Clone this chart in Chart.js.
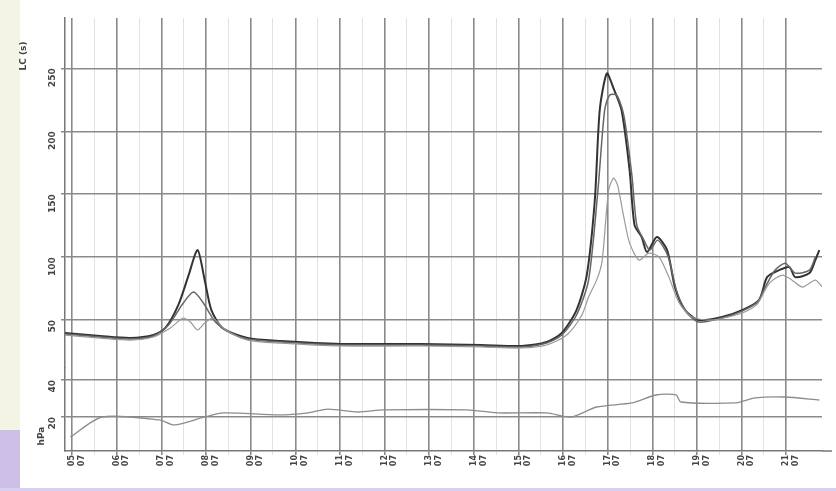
<!DOCTYPE html>
<html>
<head>
<meta charset="utf-8">
<script src="https://cdn.jsdelivr.net/npm/chart.js@4.4.1/dist/chart.umd.min.js"></script>
<style>
html,body{margin:0;padding:0;background:#fff;}
#wrap{position:relative;width:836px;height:491px;overflow:hidden;}
#strip{position:absolute;left:0;top:0;width:20px;height:430px;background:#f4f4e4;}
#corner{position:absolute;left:0;top:430px;width:20px;height:61px;background:#cdbfe6;}
#foot{position:absolute;left:0;top:488px;width:836px;height:3px;background:#d9cff0;}
canvas{position:absolute;left:0;top:0;}
</style>
</head>
<body>
<div id="wrap">
  <div id="strip"></div>
  <div id="corner"></div>
  <div id="foot"></div>
  <canvas id="chart" width="836" height="491"></canvas>
</div>
<script>
// x positions are in tick units (0 = first labelled tick)
const xTickTop    = ["05","06","07","08","09","10","11","12","13","14","15","16","17","18","19","20","21"];
const xTickBottom = ["07","07","07","07","07","07","07","07","07","07","07","07","07","07","07","07","07"];
const yTicksMain  = [50, 100, 150, 200, 250];
const yTicksLow   = [20, 40];

// series A (darkest)
const aX = [-0.16,0.63,1.30,1.82,2.09,2.38,2.61,2.81,2.97,3.12,3.37,3.93,4.67,6.02,7.82,9.17,10.07,10.63,10.97,11.30,11.53,11.71,11.82,11.98,12.13,12.31,12.49,12.60,12.76,12.88,13.10,13.33,13.51,13.73,14.04,14.56,15.01,15.39,15.57,15.84,16.07,16.20,16.52,16.65,16.74];
const aY = [39.7,37.3,35.7,38.1,43.7,62,85.7,105.6,81.7,57.9,43.7,35.7,33.3,31,31,30.2,29.4,32.5,39.7,57.9,85.7,145.2,216.7,246,234.1,216.7,169,125.4,115.9,104,115.9,105.6,75.4,57.9,50,52.4,57.9,65.9,84.1,89.7,92.1,84.1,87.3,97.6,105.6];

// series B (medium)
const bX = [-0.16,0.63,1.30,1.82,2.16,2.49,2.72,2.94,3.21,3.55,3.93,4.67,6.02,7.82,9.17,10.07,10.63,10.97,11.30,11.57,11.78,11.93,12.04,12.20,12.36,12.54,12.65,12.81,12.94,13.12,13.35,13.55,13.78,14.04,14.56,15.01,15.35,15.53,15.75,15.98,16.20,16.52,16.65];
const bY = [38.9,36.5,34.9,37.3,46,63.5,72.2,63.5,48.4,39.7,34.9,32.5,30.2,30.2,29.4,28.6,31.7,38.1,54,81.7,153.2,216.7,228.6,228.6,212.7,165.1,125.4,113.5,105.6,113.5,100.8,72.2,55.6,48.4,51.6,57.1,64.3,76.2,89.7,95.2,87.3,89.7,100];

// series C (light)
const cX = [-0.16,0.63,1.30,1.82,2.20,2.49,2.65,2.81,2.97,3.15,3.44,3.93,4.67,6.02,7.82,9.17,10.07,10.63,11.08,11.42,11.57,11.75,11.87,12.02,12.13,12.22,12.36,12.49,12.70,12.92,13.15,13.37,13.60,13.89,14.34,15.01,15.35,15.62,15.91,16.13,16.36,16.65,16.81];
const cY = [38.1,35.7,34.1,36.5,43.7,51.6,48.4,42.1,47.6,51.6,42.1,34.1,31.7,29.4,29.4,28.6,27.8,30.2,38.1,54,68.3,81.7,96,153.2,162.7,157.1,131.7,111.1,97.6,103.2,100,84.1,63.5,52.4,50,55.6,62.7,79.4,85.7,81.7,76.2,81.7,76.2];

// lower panel series
const lowX = [-0.04,0.67,1.96,2.29,2.97,3.39,4.63,5.28,5.73,6.40,6.97,8.85,9.53,10.63,11.19,11.75,12.54,13.08,13.53,13.64,14.85,15.30,15.96,16.74];
const lowY = [9.2,20,18.4,15.7,20,22.2,21.1,22.2,24.3,22.7,23.8,23.8,22.2,22.2,20,25.4,27.6,31.9,31.9,28.1,27.6,30.3,30.8,29.2];

const pts = (xs, ys) => xs.map((x, i) => ({ x, y: ys[i] }));

const titles = {
  id: "titles",
  afterDraw(chart){
    const c = chart.ctx;
    c.save();
    c.fillStyle = "#444";
    c.font = "bold 9px 'DejaVu Sans'";
    c.translate(26, 56);
    c.rotate(-Math.PI/2);
    c.textAlign = "center";
    c.fillText("LC (s)", 0, 0);
    c.restore();
    c.save();
    c.fillStyle = "#444";
    c.font = "bold 9px 'DejaVu Sans'";
    c.translate(44, 436);
    c.rotate(-Math.PI/2);
    c.textAlign = "center";
    c.fillText("hPa", 0, 0);
    c.restore();
    // arrow stub at end of time axis
    const a = chart.chartArea;
    c.save();
    c.strokeStyle = "#777";
    c.lineWidth = 1.5;
    c.beginPath();
    c.moveTo(a.right, a.bottom);
    c.lineTo(a.right + 10, a.bottom);
    c.stroke();
    c.restore();
  }
};

const lineDs = (label, data, color, width, axis) => ({
  label, data, yAxisID: axis,
  borderColor: color, borderWidth: width,
  pointRadius: 0, tension: 0.25, fill: false
});

new Chart(document.getElementById("chart"), {
  type: "line",
  data: {
    datasets: [
      lineDs("C", pts(cX, cY), "#9a9a9a", 1.2, "y"),
      lineDs("B", pts(bX, bY), "#666", 1.5, "y"),
      lineDs("A", pts(aX, aY), "#333", 2, "y"),
      lineDs("low", pts(lowX, lowY), "#8c8c8c", 1.3, "y2")
    ]
  },
  options: {
    responsive: false,
    animation: false,
    layout: { padding: { top: 18, right: 14, left: 0, bottom: 0 } },
    plugins: { legend: { display: false }, tooltip: { enabled: false } },
    scales: {
      x: {
        type: "linear",
        min: -0.16, max: 16.8,
        afterBuildTicks: (s) => {
          const t = [];
          for(let v = 0; v <= 16; v += 0.5) t.push({ value: v });
          s.ticks = t;
        },
        afterFit: (s) => { s.height = 40; },
        grid: {
          color: (ctx) => Number.isInteger(ctx.tick?.value) ? "#8a8a8a" : "#e2e2e2",
          lineWidth: (ctx) => Number.isInteger(ctx.tick?.value) ? 1.6 : 1,
          drawTicks: true, tickLength: 4
        },
        border: { color: "#777", width: 1.5 },
        ticks: {
          autoSkip: false, minRotation: 90, maxRotation: 90, padding: 0,
          color: "#444", font: { family: "DejaVu Sans", size: 8, weight: "bold" },
          callback: (v) => Number.isInteger(v) ? [xTickTop[v], xTickBottom[v]] : ""
        }
      },
      y2: {
        type: "linear", position: "left",
        stack: "panels", stackWeight: 83,
        min: 1.6, max: 46.5,
        afterBuildTicks: (s) => { s.ticks = yTicksLow.map(v => ({ value: v })); },
        afterFit: (s) => { s.width = 65; },
        grid: { color: "#8a8a8a", lineWidth: 1.5, tickLength: 4 },
        border: { color: "#777", width: 1.5 },
        ticks: {
          minRotation: 90, maxRotation: 90, padding: 8,
          color: "#444", font: { family: "DejaVu Sans", size: 9, weight: "bold" }
        }
      },
      y: {
        type: "linear", position: "left",
        stack: "panels", stackWeight: 350,
        min: 11.9, max: 290,
        afterBuildTicks: (s) => { s.ticks = yTicksMain.map(v => ({ value: v })); },
        afterFit: (s) => { s.width = 65; },
        grid: { color: "#8a8a8a", lineWidth: 1.5, tickLength: 4 },
        border: { color: "#777", width: 1.5 },
        ticks: {
          minRotation: 90, maxRotation: 90, padding: 8,
          color: "#444", font: { family: "DejaVu Sans", size: 9, weight: "bold" }
        }
      }
    }
  },
  plugins: [titles]
});
</script>
</body>
</html>
